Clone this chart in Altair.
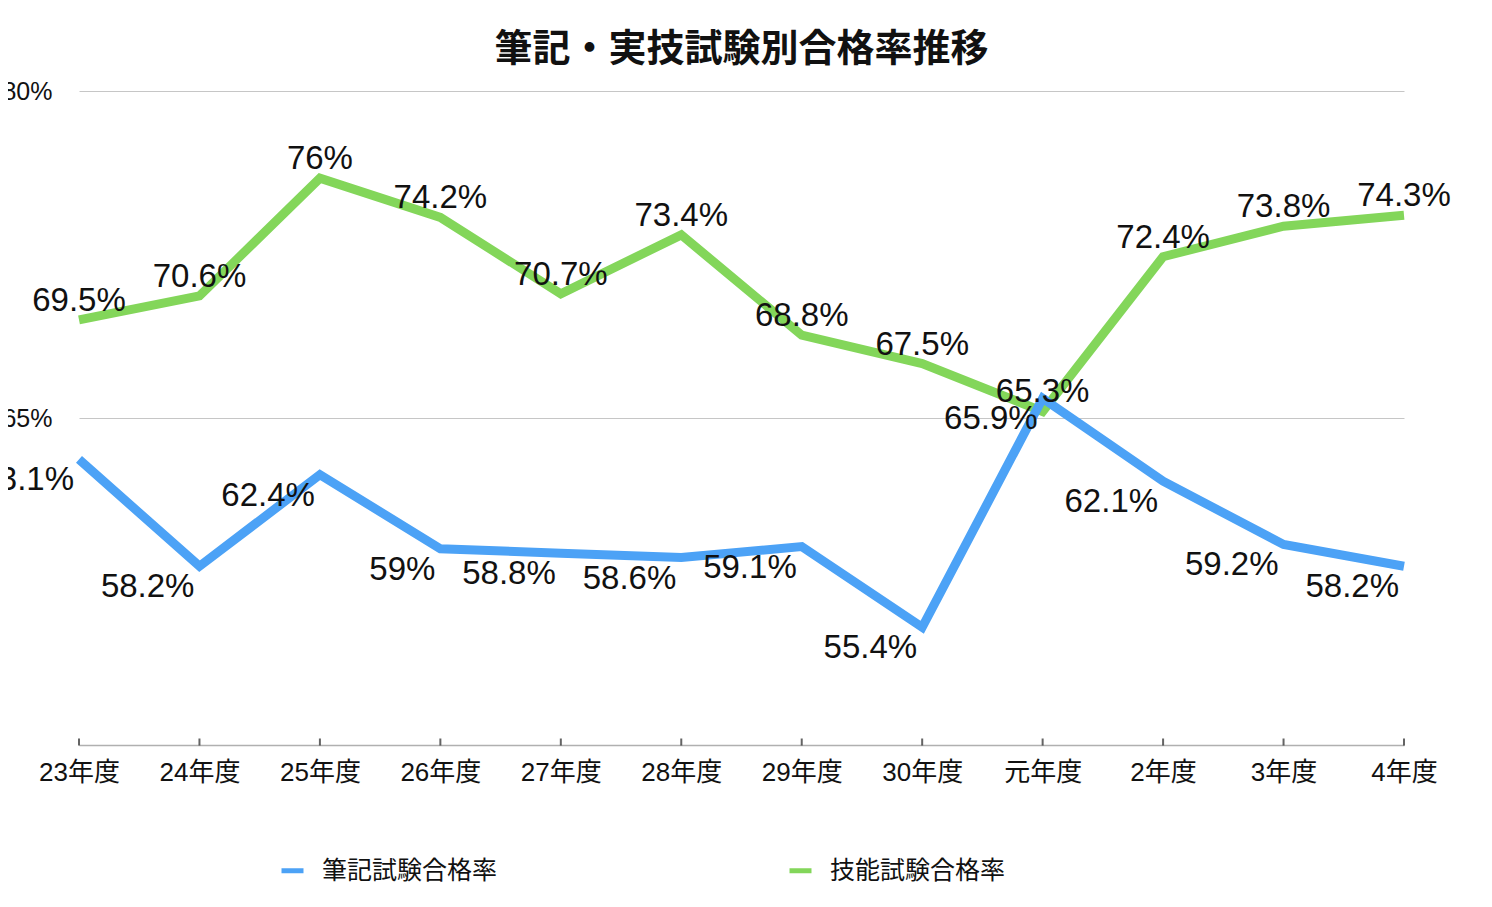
import altair as alt
import pandas as pd

years = ["23年度", "24年度", "25年度", "26年度", "27年度", "28年度",
         "29年度", "30年度", "元年度", "2年度", "3年度", "4年度"]
written = [63.1, 58.2, 62.4, 59.0, 58.8, 58.6, 59.1, 55.4, 65.9, 62.1, 59.2, 58.2]
practical = [69.5, 70.6, 76.0, 74.2, 70.7, 73.4, 68.8, 67.5, 65.3, 72.4, 73.8, 74.3]
series_names = ["筆記試験合格率", "技能試験合格率"]
colors = ["#4CA2F6", "#83D65A"]

rows = []
for name, vals in zip(series_names, [written, practical]):
    for yr, v in zip(years, vals):
        rows.append({"year": yr, "series": name, "value": v, "label": f"{v:g}%"})
df = pd.DataFrame(rows)
ticks_df = pd.DataFrame({"year": years})

FONT = "Liberation Sans, Noto Sans CJK JP, sans-serif"

x_enc = alt.X(
    "year:N", sort=years,
    scale=alt.Scale(type="point", padding=0),
    axis=alt.Axis(title=None, labelAngle=0, labelFontSize=26, labelPadding=14,
                  ticks=False, domainColor="#b0b0b0", domainWidth=1.5, grid=False,
                  labelColor="#111111"),
)
y_enc = alt.Y(
    "value:Q",
    scale=alt.Scale(domain=[50, 80], nice=False, zero=False),
    axis=alt.Axis(title=None, values=[65, 80], labelExpr="datum.value + '%'",
                  labelFontSize=25, labelPadding=27, ticks=False, domain=False,
                  gridColor="#c6c6c6", gridWidth=1, labelColor="#111111"),
)
color_enc = alt.Color(
    "series:N",
    scale=alt.Scale(domain=series_names, range=colors),
    legend=alt.Legend(title=None, orient="none", legendX=200, legendY=766,
                      direction="horizontal", symbolType="stroke",
                      symbolStrokeWidth=5, symbolSize=484, labelFontSize=25,
                      labelOffset=16, columnPadding=281, padding=0, labelLimit=0,
                      labelColor="#111111"),
)

base = alt.Chart(df)

green_line = base.transform_filter(alt.datum.series == series_names[1]).mark_line(
    strokeWidth=9).encode(x=x_enc, y=y_enc, color=color_enc)
blue_line = base.transform_filter(alt.datum.series == series_names[0]).mark_line(
    strokeWidth=9).encode(x=x_enc, y=y_enc, color=color_enc)

x_ticks = alt.Chart(ticks_df).mark_tick(
    orient="vertical", color="#222222", thickness=2, size=7, yOffset=-3
).encode(x=alt.X("year:N", sort=years), y=alt.datum(50))

blue_text = base.transform_filter(alt.datum.series == series_names[0]).mark_text(
    align="right", baseline="middle", dx=-5, dy=21, fontSize=33, color="#111111"
).encode(x=alt.X("year:N", sort=years), y="value:Q", text="label:N")
green_text = base.transform_filter(alt.datum.series == series_names[1]).mark_text(
    align="center", baseline="middle", dy=-19, fontSize=33, color="#111111"
).encode(x=alt.X("year:N", sort=years), y="value:Q", text="label:N")

chart = alt.layer(green_line, blue_line, x_ticks, blue_text, green_text).properties(
    width=1325, height=654,
    autosize=alt.AutoSizeParams(type="none"),
    padding={"left": 71, "top": 83, "right": 80, "bottom": 154},
    title=alt.TitleParams("筆記・実技試験別合格率推移", fontSize=38, fontWeight="bold",
                          anchor="middle", frame="group", offset=10, color="#111111"),
).configure(font=FONT).configure_view(stroke=None)

chart.save("out.html", embed_options={"renderer": "svg", "actions": False})
